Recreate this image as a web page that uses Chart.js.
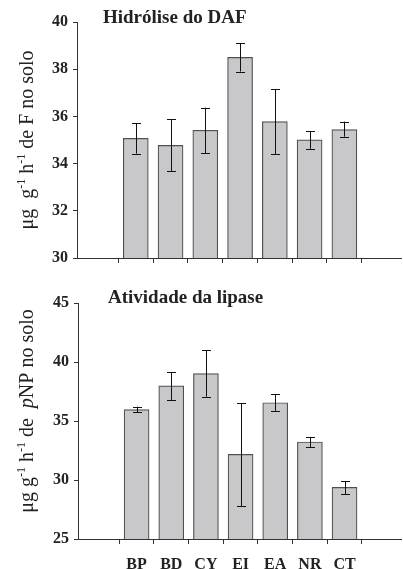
<!DOCTYPE html>
<html>
<head>
<meta charset="utf-8">
<script src="https://cdn.jsdelivr.net/npm/chart.js@4.4.1/dist/chart.umd.min.js"></script>
<style>
html,body{margin:0;padding:0;background:#fff;}
#wrap{position:relative;width:403px;height:569px;}
#a{position:absolute;left:0;top:0;width:403px;height:285px;}
#b{position:absolute;left:0;top:285px;width:403px;height:284px;}
</style>
</head>
<body>
<div id="wrap">
  <div id="a"><canvas id="c1"></canvas></div>
  <div id="b"><canvas id="c2"></canvas></div>
</div>
<script>
// ---- data ----
const categories = ['BP','BD','CY','EI','EA','NR','CT'];

const dafValues = [35.07, 34.77, 35.41, 38.50, 35.78, 35.01, 35.44];
const dafHigh   = [35.70, 35.87, 36.37, 39.10, 37.16, 35.37, 35.78];
const dafLow    = [34.42, 33.67, 34.45, 37.90, 34.39, 34.63, 35.14];
const dafTicks  = [30, 32, 34, 36, 38, 40];

const lipValues = [35.96, 37.97, 39.01, 32.17, 36.55, 33.22, 29.37];
const lipHigh   = [36.21, 39.15, 40.98, 36.49, 37.25, 33.64, 29.92];
const lipLow    = [35.73, 36.78, 37.06, 27.80, 35.85, 32.80, 28.81];
const lipTicks  = [25, 30, 35, 40, 45];

const dafTitle = 'Hidrólise do DAF';
const lipTitle = 'Atividade da lipase';
const dafYTitle = [{t:'μg  g'},{t:'-1',sup:true},{t:' h'},{t:'-1',sup:true},{t:' de F no solo'}];
const lipYTitle = [{t:'μg g'},{t:'-1',sup:true},{t:' h'},{t:'-1',sup:true},{t:' de  '},{t:'p',it:true},{t:'NP no solo'}];

const SERIF = '"Liberation Serif","Times New Roman",serif';
const INK = '#222';

// ---- plugins ----
const errorBars = {
  id:'errorBars',
  afterDatasetsDraw(chart, args, opts){
    const ctx = chart.ctx, xs = chart.scales.x, ys = chart.scales.y;
    ctx.save();
    ctx.strokeStyle = '#111';
    ctx.lineWidth = 1;
    opts.high.forEach((hi, i) => {
      const x = Math.round(xs.getPixelForValue(i)) + 0.5;
      const y1 = ys.getPixelForValue(hi), y2 = ys.getPixelForValue(opts.low[i]);
      ctx.beginPath();
      ctx.moveTo(x, y1); ctx.lineTo(x, y2);
      ctx.moveTo(x-4.5, Math.round(y1)+0.5); ctx.lineTo(x+4.5, Math.round(y1)+0.5);
      ctx.moveTo(x-4.5, Math.round(y2)+0.5); ctx.lineTo(x+4.5, Math.round(y2)+0.5);
      ctx.stroke();
    });
    ctx.restore();
  }
};

const labels = {
  id:'labels',
  afterDraw(chart, args, opts){
    const ctx = chart.ctx;
    ctx.save();
    ctx.fillStyle = INK;
    // panel title
    ctx.font = 'bold 19px ' + SERIF;
    ctx.textBaseline = 'middle';
    ctx.textAlign = 'left';
    ctx.fillText(opts.title, opts.tx, opts.ty);
    // rotated y title with superscripts
    ctx.translate(opts.yx, opts.yy);
    ctx.rotate(-Math.PI/2);
    ctx.textBaseline = 'alphabetic';
    const fontFor = s => s.sup ? '12px ' + SERIF : (s.it ? 'italic 20px ' + SERIF : '20px ' + SERIF);
    let total = 0;
    opts.ytitle.forEach(s => { ctx.font = fontFor(s); total += ctx.measureText(s.t).width; });
    let x = -total/2;
    opts.ytitle.forEach(s => {
      ctx.font = fontFor(s);
      ctx.fillText(s.t, x, s.sup ? -8 : 0);
      x += ctx.measureText(s.t).width;
    });
    ctx.restore();
  }
};

function makeChart(id, values, high, low, yTicks, title, ytitle, cfg){
  return new Chart(document.getElementById(id), {
    type:'bar',
    data:{
      datasets:[{
        data: categories.map((c,i)=>({x:i, y:values[i]})),
        backgroundColor:'#c8c8ca',
        borderColor:'#505050',
        borderWidth:1.2,
        borderSkipped:'bottom',
        barThickness:25
      }]
    },
    options:{
      responsive:true,
      maintainAspectRatio:false,
      animation:false,
      layout:{padding:{top:cfg.top, right:2, left:0, bottom:0}},
      plugins:{
        legend:{display:false},
        tooltip:{enabled:false},
        errorBars:{high, low},
        labels:{title, tx:cfg.tx, ty:cfg.ty, ytitle, yx:33, yy:cfg.yy}
      },
      scales:{
        x:{
          type:'linear',
          min:-1.025, max:6.963,
          afterBuildTicks(s){ s.ticks = categories.map((c,i)=>({value:i})); },
          afterFit(s){ s.height = cfg.xh; },
          grid:{drawOnChartArea:false, drawTicks:true, tickLength:5, color:'#333', lineWidth:1},
          border:{display:true, color:'#333', width:1},
          ticks:{
            autoSkip:false, maxRotation:0, padding:cfg.xpad,
            color:INK, font:{family:SERIF, size:16, weight:'bold'},
            callback:(v)=> cfg.showX ? categories[v] : ''
          }
        },
        y:{
          min:yTicks[0], max:yTicks[yTicks.length-1],
          afterBuildTicks(s){ s.ticks = yTicks.map(v=>({value:v})); },
          afterFit(s){ s.width = cfg.yw; },
          grid:{drawOnChartArea:false, drawTicks:true, tickLength:4, color:'#333', lineWidth:1},
          border:{display:true, color:'#333', width:1},
          ticks:{padding:5, color:INK, font:{family:SERIF, size:16, weight:'bold'}}
        }
      }
    },
    plugins:[errorBars, labels]
  });
}

makeChart('c1', dafValues, dafHigh, dafLow, dafTicks, dafTitle, dafYTitle,
  {top:22, xh:27, yw:77, tx:103, ty:18, yy:140, xpad:4, showX:false});
makeChart('c2', lipValues, lipHigh, lipLow, lipTicks, lipTitle, lipYTitle,
  {top:18, xh:30, yw:78, tx:108, ty:13, yy:126, xpad:11, showX:true});
</script>
</body>
</html>
